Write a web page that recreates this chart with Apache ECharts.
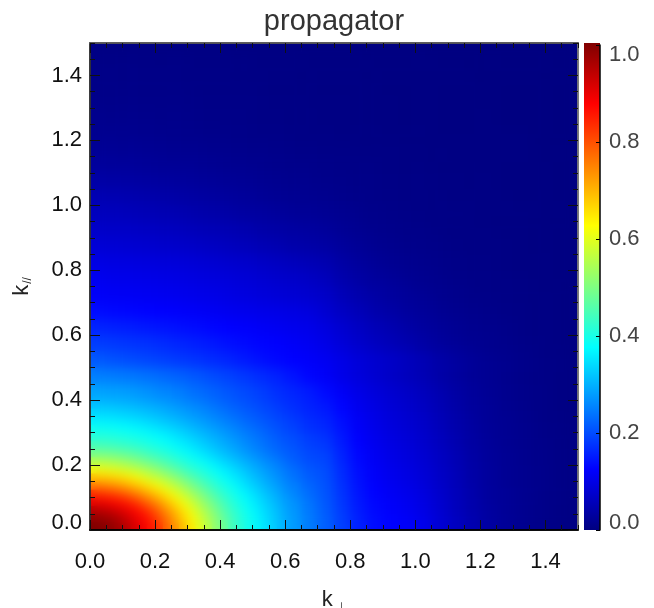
<!DOCTYPE html>
<html><head><meta charset="utf-8">
<style>html,body{margin:0;padding:0;background:#fff}#c{width:654px;height:608px}</style>
<script src="https://cdn.jsdelivr.net/npm/echarts@6/dist/echarts.min.js"></script>
</head><body><div id="c"></div>
<script>
// values, in thousandths; rows go from k// = 0 upward, columns from k_perp = 0 rightward
// whole plot, cells of 0.05
const coarseRows = [
[1000,976,934,874,796,706,616,532,458,403,358,316,279,247,219,187,157,137,127,119,105,83,64,47,33,24,17,11,7,4],
[921,900,866,809,733,656,575,500,434,390,346,308,272,241,213,181,150,132,121,112,98,79,60,44,31,23,17,11,7,4],
[798,778,742,693,634,567,505,444,401,361,320,286,254,229,207,175,144,126,114,104,91,74,57,42,29,22,16,12,8,5],
[650,636,609,569,527,480,431,394,362,326,293,263,237,214,201,168,138,120,108,98,85,70,55,39,28,20,16,12,8,5],
[514,504,484,462,429,405,375,343,316,290,261,238,216,198,191,160,132,115,102,92,80,66,51,37,26,20,15,11,8,5],
[429,423,415,400,382,361,333,308,287,262,239,220,203,186,177,150,125,109,97,87,75,61,47,34,25,18,14,10,7,4],
[375,372,363,349,334,316,292,274,255,237,220,202,187,171,162,140,118,103,91,81,70,56,43,32,23,18,13,9,6,4],
[324,320,313,303,291,278,261,246,230,215,200,186,172,159,149,130,111,98,86,76,65,52,40,29,22,16,12,8,5,3],
[286,283,278,269,258,249,235,223,210,198,186,172,161,150,134,118,102,90,79,70,59,47,36,27,20,15,11,8,5,3],
[250,247,243,237,229,221,211,200,190,180,168,157,143,130,119,104,91,80,70,60,51,40,31,23,18,14,10,7,5,3],
[212,206,200,194,188,182,176,168,160,150,140,132,126,120,112,100,88,78,70,60,50,40,31,24,18,14,10,7,5,3],
[185,181,177,173,167,161,155,148,140,134,129,125,119,112,102,88,75,64,55,46,37,29,23,18,14,11,8,6,4,3],
[160,156,153,148,144,139,135,130,126,122,118,113,108,104,93,79,66,55,47,38,30,24,19,15,12,10,7,5,4,3],
[135,132,130,127,125,122,118,114,110,107,104,101,97,92,80,66,55,45,37,30,24,19,15,12,9,7,6,4,3,2],
[119,117,115,113,111,108,105,102,98,94,90,86,82,77,70,55,45,37,30,25,20,15,12,9,7,6,5,4,3,2],
[110,107,105,103,101,98,95,92,89,85,81,76,72,66,58,45,36,29,24,19,15,12,9,7,6,5,4,3,2,2],
[98,96,94,92,89,87,84,81,77,74,69,64,59,53,47,37,29,23,18,15,12,10,8,6,5,4,3,3,2,2],
[84,83,80,78,75,72,69,65,61,57,52,48,43,39,35,28,22,17,14,11,9,8,6,5,4,4,3,2,2,2],
[72,71,69,66,63,60,56,53,50,46,42,38,34,31,27,21,17,13,11,9,8,6,5,5,4,3,3,2,2,2],
[60,59,56,53,50,47,44,41,38,34,31,27,24,22,19,16,13,10,8,7,6,5,5,4,3,3,3,2,2,2],
[50,49,46,44,41,38,35,32,29,26,23,20,18,16,15,12,10,8,7,6,5,5,4,4,3,3,2,2,2,2],
[38,37,35,33,31,28,26,24,22,20,18,16,14,13,11,10,8,7,6,5,5,4,4,3,3,2,2,2,1,1],
[28,27,26,24,22,21,20,18,16,15,14,12,11,10,9,8,7,6,5,4,4,3,3,3,2,2,2,2,1,1],
[21,20,20,18,17,16,15,13,12,11,10,9,8,7,6,6,5,4,4,3,3,3,2,2,2,2,2,1,1,1],
[16,16,15,14,13,12,11,10,9,8,7,7,6,5,5,4,4,4,3,3,3,2,2,2,2,2,2,1,1,1],
[13,12,12,11,10,10,9,8,8,7,6,6,5,5,4,4,3,3,3,2,2,2,2,2,2,1,1,1,1,1],
[10,10,10,9,9,8,8,7,7,6,6,5,5,4,4,4,3,3,3,2,2,2,2,2,1,1,1,1,1,1],
[8,8,8,7,7,7,6,6,6,5,5,4,4,4,3,3,3,3,2,2,2,2,2,2,1,1,1,1,1,1],
[7,7,7,6,6,6,5,5,5,5,4,4,4,3,3,3,3,2,2,2,2,2,2,1,1,1,1,1,1,1],
[5,5,5,5,4,4,4,4,4,3,3,3,3,2,2,2,2,2,2,2,2,1,1,1,1,1,1,1,1,1]
];
// lower-left corner where colour changes fastest: k_perp 0-0.6, k// 0-0.4, cells of 0.025
const fineRows = [
[1009,1002,989,976,952,922,893,863,825,780,735,692,647,602,560,519,482,446,418,396,373,351,329,309],
[988,983,974,957,932,905,877,850,809,764,720,676,634,589,548,510,473,440,413,391,369,347,326,306],
[951,945,933,916,898,875,852,818,776,733,695,652,609,567,532,493,458,428,405,384,362,340,321,302],
[898,893,884,870,856,830,798,764,731,692,652,616,580,540,504,472,441,415,394,372,351,332,312,293],
[839,832,821,807,787,762,737,706,677,643,610,574,541,506,478,444,420,400,379,360,340,321,303,286],
[760,755,746,733,715,695,672,647,620,589,561,532,500,472,444,421,400,385,360,340,324,304,288,272],
[688,684,675,665,652,634,609,580,564,538,516,486,462,437,417,398,380,361,343,326,308,293,276,262],
[616,612,605,596,582,567,548,532,511,486,465,444,420,409,394,376,360,343,328,311,295,280,265,253],
[548,545,540,532,520,508,493,476,458,444,425,412,396,385,367,350,335,322,306,293,279,265,253,241],
[493,490,486,480,472,461,449,434,423,412,398,385,369,355,340,327,313,300,286,272,259,247,235,225],
[444,441,438,431,426,420,412,403,394,385,371,361,349,335,322,310,296,286,272,259,249,237,227,218],
[416,414,412,409,405,398,391,385,376,367,354,342,332,319,308,296,286,272,262,250,241,230,220,210],
[390,389,386,382,378,372,367,358,349,340,332,321,310,300,289,279,268,259,247,238,230,220,210,202],
[362,361,359,356,351,346,340,334,326,318,310,300,291,282,272,262,253,244,235,226,218,210,202,194],
[336,335,334,330,327,322,318,311,305,297,289,282,272,265,257,247,239,230,222,215,207,200,193,186],
[316,315,314,310,308,303,298,293,287,281,274,266,259,252,244,235,227,220,212,206,199,192,186,178]
];
const tickValues = [0,0.2,0.4,0.6,0.8,1.0,1.2,1.4];
const colorbarTicks = [0,0.2,0.4,0.6,0.8,1.0];
const jetColors = ['#000080','#0000ff','#0080ff','#00ffff','#80ff80','#ffff00','#ff8000','#ff0000','#800000'];

const L=90, T=43, W=488, H=487, FONT='"Liberation Sans",Arial,sans-serif';
const fineW=W*0.6/1.5, fineH=H*0.4/1.5;
const TOP=2; // zlevel of axes and text, above the heatmap layers

function toCells(rows){
  const out=[];
  rows.forEach((r,j)=>r.forEach((v,i)=>out.push([i,j,v/1000])));
  return out;
}
function cats(n){return Array.from({length:n},(_,i)=>String(i));}

const xAxes=[
 {type:'category',gridIndex:0,data:cats(coarseRows[0].length),show:false},
 {type:'category',gridIndex:1,data:cats(fineRows[0].length),show:false}
];
const yAxes=[
 {type:'category',gridIndex:0,data:cats(coarseRows.length),show:false},
 {type:'category',gridIndex:1,data:cats(fineRows.length),show:false}
];
function frameAxis(position,major,lineColor,extra){
  return Object.assign({
    type:'value',gridIndex:major?2:3,position,min:0,max:1.5,z:10,zlevel:TOP,
    splitLine:{show:false},
    axisLine:{show:true,onZero:false,lineStyle:{color:lineColor,width:1.5}},
    axisTick:major?{show:true,inside:true,length:10,customValues:tickValues,lineStyle:{color:'#111',width:1}}
                  :{show:true,inside:true,length:5,lineStyle:{color:'#111',width:1}},
    axisLabel:{show:false}
  },major?{}:{interval:0.05},extra||{});
}
const labelStyle={show:true,customValues:tickValues,color:'#111',fontFamily:FONT,fontSize:22,formatter:v=>v.toFixed(1)};
xAxes.push(
 frameAxis('bottom',true,'#000',{
   axisLabel:Object.assign({},labelStyle,{margin:21}),
   name:'{k|k}{s|\u22a5}',nameLocation:'middle',nameGap:56,
   nameTextStyle:{rich:{k:{fontFamily:FONT,fontSize:22,color:'#222'},s:{fontFamily:'"DejaVu Sans"',fontSize:11,color:'#222',padding:[16,0,0,4]}}}
 }),
 frameAxis('bottom',false,'#000'),
 frameAxis('top',true,'#555'),
 frameAxis('top',false,'#555')
);
yAxes.push(
 frameAxis('left',true,'#333',{
   axisLabel:Object.assign({},labelStyle,{margin:8,lineHeight:14,padding:[2,0,0,0],verticalAlignMinLabel:'bottom'}),
   name:'{k|k}{s|//}',nameLocation:'middle',nameGap:56,nameRotate:90,
   nameTextStyle:{rich:{k:{fontFamily:FONT,fontSize:22,color:'#222'},s:{fontFamily:FONT,fontSize:12,color:'#222',padding:[12,0,0,1]}}}
 }),
 frameAxis('left',false,'#333'),
 frameAxis('right',true,'#777'),
 frameAxis('right',false,'#777')
);
// colour bar axis
xAxes.push({type:'value',gridIndex:4,min:0,max:1,position:'bottom',show:false});
yAxes.push({type:'value',gridIndex:4,position:'right',min:0,max:1,interval:0.2,z:10,zlevel:TOP,
  splitLine:{show:false},
  axisLine:{show:true,onZero:false,lineStyle:{color:'#000',width:1.5}},
  axisTick:{show:true,inside:true,length:4,customValues:colorbarTicks,lineStyle:{color:'#000',width:1}},
  axisLabel:{show:true,customValues:colorbarTicks,color:'#444',fontFamily:FONT,fontSize:22,margin:9,lineHeight:14,padding:[3,0,0,0],
    verticalAlignMinLabel:'bottom',verticalAlignMaxLabel:'top',formatter:v=>v.toFixed(1)}
});
const frameGrid={left:L,top:T,width:W,height:H,outerBoundsMode:'none'};

// sharp layer underneath, softened layer on top of it (the reference image is smoothly resampled)
const heatSeries=[0,1].flatMap(zlevel=>[
  {type:'heatmap',xAxisIndex:0,yAxisIndex:0,data:toCells(coarseRows),z:2,zlevel,progressive:0},
  {type:'heatmap',xAxisIndex:1,yAxisIndex:1,data:toCells(fineRows),z:3,zlevel,progressive:0}
]);

const chart=echarts.init(document.getElementById('c'),null,{renderer:'canvas'});
chart.setOption({
  animation:false,
  title:{text:'propagator',left:334,textAlign:'center',top:7,padding:0,zlevel:TOP,textStyle:{fontFamily:FONT,fontSize:29,fontWeight:'normal',color:'#333'}},
  grid:[
   frameGrid,
   {left:L,top:T+H-fineH,width:fineW,height:fineH,outerBoundsMode:'none'},
   frameGrid,
   frameGrid,
   {left:584,top:45,width:16,height:485,outerBoundsMode:'none'}
  ],
  xAxis:xAxes,
  yAxis:yAxes,
  visualMap:{type:'continuous',show:false,min:0,max:1.005,seriesIndex:[0,1,2,3],inRange:{color:jetColors}},
  graphic:[{type:'rect',zlevel:TOP,z:1,silent:true,shape:{x:584,y:43,width:16,height:487},
    style:{fill:new echarts.graphic.LinearGradient(0,0,0,1,
      jetColors.map((c,i,a)=>({offset:1-i/(a.length-1),color:c})).reverse())}}],
  series:heatSeries
});
const softLayer=document.querySelector('#c canvas[data-zr-dom-id="zr_1"]');
if(softLayer){
  softLayer.style.filter='blur(6px)';
  softLayer.style.clipPath='inset('+T+'px '+(654-L-W)+'px '+(608-T-H)+'px '+L+'px)';
}
</script></body></html>
